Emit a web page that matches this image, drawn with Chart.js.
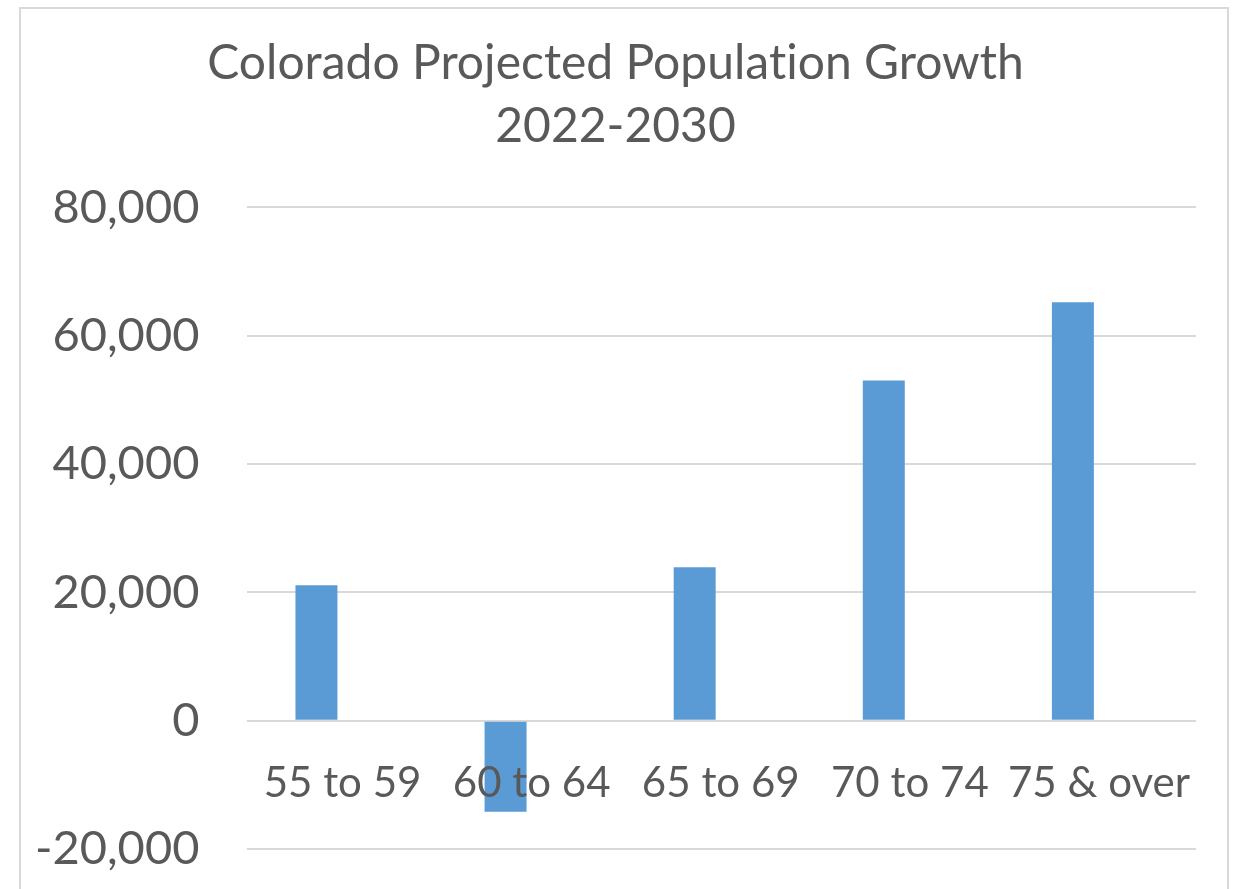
<!DOCTYPE html>
<html>
<head>
<meta charset="utf-8">
<script src="https://cdn.jsdelivr.net/npm/chart.js@4"></script>
<style>
  html, body { margin: 0; padding: 0; background: #fff; overflow: hidden; width: 1233px; height: 889px; }
  #frame { position: absolute; left: 19px; top: 7px; width: 1206px; height: 900px; border: 2px solid #d9d9d9; border-bottom: none; }
  #c { position: absolute; left: 21px; top: 0; }
</style>
</head>
<body>
<div id="frame"></div>
<canvas id="c" width="1204" height="889"></canvas>
<script>
const titleLines = ['Colorado Projected Population Growth', '2022-2030'];
const categories = ['55 to 59', '60 to 64', '65 to 69', '70 to 74', '75 & over'];
const growth = [21100, -14200, 23900, 53000, 65200];
const yTicks = [-20000, 0, 20000, 40000, 60000, 80000];

const textColor = '#595959';
const gridColor = '#d9d9d9';
const fontFamily = 'Lato, "Open Sans", sans-serif';

const noLigatures = {
  id: 'noLigatures',
  beforeDraw(chart) {
    try { chart.ctx.letterSpacing = '0.01px'; } catch (e) {}
  }
};

const categoryTicks = (scale) => { scale.ticks = categories.map((c, i) => ({ value: i })); };

new Chart(document.getElementById('c'), {
  type: 'bar',
  plugins: [noLigatures],
  data: {
    datasets: [{
      data: categories.map((c, i) => ({ x: i, y: growth[i] })),
      backgroundColor: '#5B9BD5',
      borderWidth: 0,
      barPercentage: 0.222,
      categoryPercentage: 1.0
    }]
  },
  options: {
    responsive: false,
    animation: false,
    layout: { padding: { left: 14, right: 29, top: 0, bottom: 40 } },
    plugins: {
      legend: { display: false },
      tooltip: { enabled: false },
      title: {
        display: true,
        text: titleLines,
        color: textColor,
        font: { family: fontFamily, size: 48, weight: 'normal', lineHeight: 1.31 },
        padding: { top: 32, bottom: 49.6 }
      }
    },
    scales: {
      x: {
        type: 'linear',
        position: { y: 0 },
        offset: false,
        min: -0.365,
        max: 4.651,
        afterBuildTicks: categoryTicks,
        grid: { display: false, offset: false },
        border: { display: false },
        ticks: { display: false }
      },
      x2: {
        type: 'linear',
        axis: 'x',
        position: { y: 0 },
        offset: false,
        min: -0.503,
        max: 4.513,
        afterBuildTicks: categoryTicks,
        grid: { display: true, offset: false, drawOnChartArea: false, drawTicks: true, tickLength: 38, tickColor: 'rgba(0,0,0,0)' },
        border: { display: false },
        ticks: {
          z: 1,
          color: textColor,
          font: { family: fontFamily, size: 42 },
          padding: 0,
          maxRotation: 0,
          autoSkip: false,
          callback: (v) => categories[v]
        }
      },
      y: {
        min: yTicks[0],
        max: yTicks[yTicks.length - 1],
        afterBuildTicks: (scale) => { scale.ticks = yTicks.map(v => ({ value: v })); },
        grid: { color: gridColor, lineWidth: 2, drawTicks: true, tickLength: 48, tickColor: 'rgba(0,0,0,0)' },
        border: { display: false },
        ticks: {
          color: textColor,
          font: { family: fontFamily, size: 47 },
          padding: 0,
          callback: (v) => v.toLocaleString('en-US')
        }
      }
    }
  }
});
</script>
</body>
</html>
